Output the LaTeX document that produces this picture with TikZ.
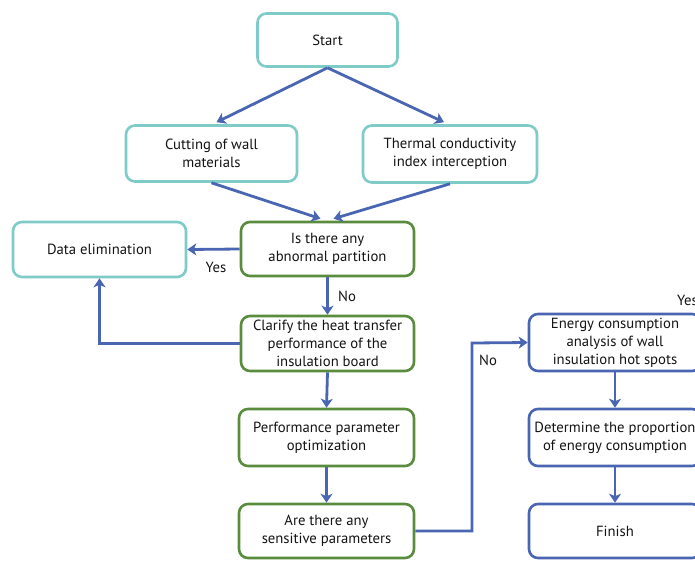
\documentclass[tikz,border=0pt]{standalone}
\usepackage{fontspec}
\setmainfont{PT Sans}
\usetikzlibrary{arrows.meta}
\definecolor{tealc}{HTML}{7ECBC7}
\definecolor{greenc}{HTML}{5A8C3E}
\definecolor{bluec}{HTML}{4A66B2}
\begin{document}
\begin{tikzpicture}[x=1pt,y=-1pt,
  box/.style={draw, rounded corners=9pt, line width=2.6pt, fill=white, align=center,
    font=\fontsize{14.7}{18}\selectfont, inner sep=0pt, text=black!92},
  tbox/.style={box, draw=tealc},
  gbox/.style={box, draw=greenc},
  bbox/.style={box, draw=bluec},
  conn/.style={draw=bluec, line width=2.8pt, -{Stealth[length=9pt,width=12pt,inset=2.5pt]}},
  lbl/.style={font=\fontsize{14.7}{18}\selectfont, text=black!92, inner sep=0pt}]
\useasboundingbox (0,0) rectangle (695,560);
\node[tbox, minimum width=140pt, minimum height=53pt] (start) at (327.5,40) {Start};
\node[tbox, minimum width=171pt, minimum height=56pt] (cut) at (211.5,153.5) {Cutting of wall\\materials};
\node[tbox, minimum width=174pt, minimum height=57pt] (therm) at (450,154) {Thermal conductivity\\index interception};
\node[gbox, minimum width=173pt, minimum height=54pt] (isab) at (327.5,249) {Is there any\\abnormal partition};
\node[tbox, minimum width=173pt, minimum height=55pt] (data) at (99.5,249.5) {Data elimination};
\node[gbox, minimum width=173pt, minimum height=55pt] (clar) at (327.5,343.5) {Clarify the heat transfer\\performance of the\\insulation board};
\node[gbox, minimum width=175pt, minimum height=57pt] (perf) at (326.5,437.5) {Performance parameter\\optimization};
\node[gbox, minimum width=175pt, minimum height=54pt] (sens) at (326.5,531) {Are there any\\sensitive parameters};
\node[bbox, minimum width=172pt, minimum height=57pt] (ener) at (615,342.5) {Energy consumption\\analysis of wall\\insulation hot spots};
\node[bbox, minimum width=172pt, minimum height=57pt] (det) at (615,437.5) {Determine the proportion\\of energy consumption};
\node[bbox, minimum width=172pt, minimum height=54pt] (fin) at (615,531) {Finish};

\coordinate (isabL) at ([xshift=-7pt,yshift=2pt]isab.north);
\coordinate (isabR) at ([xshift=6pt,yshift=2pt]isab.north);
\coordinate (cutT) at ([xshift=5pt,yshift=2pt]cut.north);
\coordinate (thT) at ([xshift=-6pt,yshift=2pt]therm.north);
\draw[conn] (start.south) -- (cutT);
\draw[conn] (start.south) -- (thT);
\draw[conn] (cut.south) -- (isabL);
\draw[conn] (therm.south) -- (isabR);
\draw[conn] (isab.west) -- (data.east);
\draw[conn] (isab.south) -- (clar.north);
\draw[conn] (clar.west) -| (data.south);
\draw[conn] (clar.south) -- (perf.north);
\draw[conn] (perf.south) -- (sens.north);
\coordinate (turn) at (472,343);
\draw[conn] (sens.east) -| (turn) -- (ener.west);
\draw[conn] (ener.south) -- (det.north);
\draw[conn] (det.south) -- (fin.north);

\node[lbl] (yes1) at (216,267) {Yes};
\node[lbl] (no1) at (347,296) {No};
\node[lbl] (no2) at (488,360) {No};
\node[lbl, anchor=west] (yes2) at (677,300) {Yes};
\end{tikzpicture}
\end{document}
